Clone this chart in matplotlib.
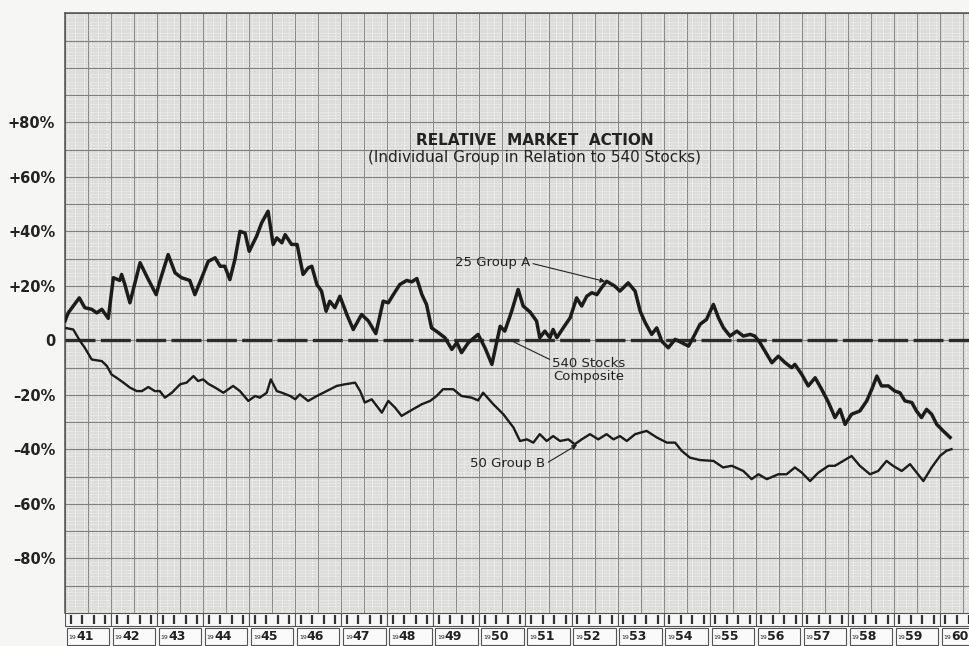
import numpy as np
import matplotlib.pyplot as plt
from matplotlib.patches import Rectangle
from matplotlib.ticker import MultipleLocator

# years after Jan 1941
t_a = [0.00, 0.07, 0.31, 0.43, 0.58, 0.69, 0.80, 0.94, 1.05, 1.19, 1.23, 1.30, 1.41, 1.63,
       1.79, 1.98, 2.06, 2.24, 2.39, 2.53, 2.71, 2.82, 2.97, 3.11, 3.26, 3.37, 3.47, 3.58,
       3.69, 3.80, 3.91, 4.00, 4.16, 4.27, 4.41, 4.52, 4.60, 4.71, 4.78, 4.92, 5.04, 5.17,
       5.28, 5.36, 5.47, 5.57, 5.67, 5.75, 5.86, 5.97, 6.12, 6.26, 6.44, 6.59, 6.75, 6.91,
       7.02, 7.13, 7.27, 7.42, 7.53, 7.64, 7.75, 7.85, 7.96, 8.11, 8.25, 8.40, 8.51, 8.61,
       8.76, 8.97, 9.12, 9.27, 9.45, 9.55, 9.70, 9.84, 9.95, 10.10, 10.24, 10.31, 10.42,
       10.53, 10.60, 10.68, 10.82, 10.97, 11.11, 11.22, 11.33, 11.44, 11.55, 11.65, 11.76,
       11.94, 12.05, 12.23, 12.38, 12.49, 12.60, 12.74, 12.85, 12.96, 13.10, 13.25, 13.39,
       13.54, 13.64, 13.79, 13.93, 14.08, 14.19, 14.30, 14.44, 14.59, 14.73, 14.88, 14.98,
       15.09, 15.20, 15.35, 15.49, 15.64, 15.78, 15.85, 16.00, 16.14, 16.29, 16.43, 16.58,
       16.72, 16.83, 16.94, 17.08, 17.26, 17.41, 17.52, 17.63, 17.73, 17.88, 18.02, 18.13,
       18.24, 18.39, 18.49, 18.60, 18.71, 18.82, 18.93, 19.07, 19.22]
group_a = [7.1, 10.1, 15.6, 12.0, 11.4, 10.1, 11.4, 8.1, 23.0, 22.0, 24.2, 20.5, 13.8, 28.5,
           23.0, 16.8, 21.7, 31.5, 24.8, 23.0, 22.0, 16.8, 23.0, 29.0, 30.3, 27.2, 27.2, 22.3,
           29.7, 40.0, 39.4, 32.7, 38.2, 43.1, 47.4, 35.2, 37.6, 35.8, 38.8, 35.2, 35.2, 24.2,
           26.6, 27.2, 20.5, 18.1, 10.7, 14.4, 12.0, 16.2, 9.5, 4.0, 9.5, 7.1, 2.5, 14.4,
           13.8, 16.8, 20.5, 22.0, 21.5, 22.7, 16.8, 13.2, 4.6, 2.8, 1.0, -3.3, -0.8, -4.5,
           -0.8, 2.2, -2.7, -8.8, 5.2, 3.4, 10.7, 18.7, 12.6, 10.4, 7.1, 1.0, 3.4,
           1.0, 4.0, 1.0, 4.6, 8.3, 15.6, 12.6, 16.2, 17.5, 16.8, 19.3, 21.7,
           19.9, 18.1, 21.1, 18.1, 10.7, 6.5, 2.2, 4.6, -0.3, -2.7, 0.4, -0.8,
           -2.1, 1.0, 5.9, 7.7, 13.2, 8.3, 4.6, 1.6, 3.4, 1.6, 2.2, 1.6,
           -0.8, -3.9, -8.2, -5.8, -8.2, -10.0, -8.8, -12.5, -16.7, -13.7, -17.9, -22.8,
           -28.3, -25.3, -30.8, -27.1, -25.9, -22.2, -17.9, -13.1, -16.7, -16.7, -18.6, -19.2,
           -22.2, -22.8, -25.9, -28.3, -25.3, -27.1, -30.8, -33.2, -35.6]

t_b = [0.00, 0.18, 0.33, 0.43, 0.58, 0.80, 0.91, 1.01, 1.12, 1.27, 1.41, 1.56, 1.67, 1.81,
       1.95, 2.06, 2.17, 2.32, 2.50, 2.64, 2.79, 2.89, 3.00, 3.11, 3.26, 3.44, 3.65, 3.80,
       3.98, 4.13, 4.23, 4.38, 4.47, 4.60, 4.71, 4.89, 5.00, 5.10, 5.28, 5.47, 5.68, 5.90,
       6.08, 6.30, 6.41, 6.51, 6.66, 6.88, 7.02, 7.17, 7.31, 7.49, 7.75, 7.93, 8.07, 8.21,
       8.43, 8.61, 8.83, 8.97, 9.08, 9.30, 9.52, 9.74, 9.88, 10.03, 10.17, 10.31, 10.46,
       10.60, 10.75, 10.93, 11.07, 11.22, 11.40, 11.58, 11.76, 11.91, 12.05, 12.20, 12.38,
       12.63, 12.85, 13.07, 13.25, 13.39, 13.57, 13.79, 14.08, 14.29, 14.48, 14.73, 14.91,
       15.06, 15.24, 15.49, 15.67, 15.85, 16.00, 16.18, 16.36, 16.58, 16.72, 16.90, 17.08,
       17.26, 17.48, 17.66, 17.84, 17.98, 18.17, 18.35, 18.64, 18.82, 19.00, 19.14, 19.25]
group_b = [4.6, 4.0, -0.3, -2.7, -7.0, -7.6, -9.4, -12.5, -13.7, -15.5, -17.3, -18.6, -18.6, -17.1,
           -18.6, -18.6, -21.0, -19.2, -16.1, -15.5, -13.1, -14.9, -14.3, -15.9, -17.3, -19.2, -16.7, -18.6,
           -22.2, -20.4, -21.0, -19.2, -14.3, -18.6, -19.2, -20.4, -21.6, -19.8, -22.2, -20.4, -18.6, -16.7,
           -16.1, -15.5, -18.6, -22.8, -21.6, -26.5, -22.2, -24.7, -27.7, -25.9, -23.4, -22.2, -20.4, -17.9,
           -17.9, -20.4, -21.0, -22.0, -19.2, -23.4, -27.1, -32.0, -36.9, -36.3, -37.5, -34.4, -36.9,
           -35.1, -36.9, -36.3, -38.1, -36.3, -34.4, -36.3, -34.4, -36.3, -35.1, -36.9, -34.4,
           -33.2, -35.6, -37.5, -37.5, -40.5, -43.0, -43.9, -44.2, -46.6, -46.0, -47.9, -50.9,
           -49.1, -50.9, -49.1, -49.1, -46.6, -48.5, -51.6, -48.5, -46.0, -46.0, -44.2, -42.4,
           -46.0, -49.1, -47.9, -44.2, -46.0, -47.9, -45.4, -51.6, -46.6, -42.4, -40.5, -39.9]

years = list(range(1941, 1961))
ytick_vals = [80, 60, 40, 20, 0, -20, -40, -60, -80]
ytick_text = ['+80%', '+60%', '+40%', '+20%', '0', '–20%', '–40%', '–60%', '–80%']

ink = '#222222'
fig = plt.figure(figsize=(9.7, 6.46), dpi=100)
fig.patch.set_facecolor('#f6f6f4')

ax = fig.add_axes([0.067, 0.0511, 0.9495, 0.9283])
ax.set_facecolor('#f0f0ee')
ax.set_xlim(1941, 1961)
ax.set_ylim(-100, 120)

# graph paper
ax.xaxis.set_major_locator(MultipleLocator(0.5))
ax.xaxis.set_minor_locator(MultipleLocator(0.05))
ax.yaxis.set_minor_locator(MultipleLocator(1))
ax.grid(which='minor', color='#c6c6c6', lw=0.35)
ax.grid(which='major', color='#808080', lw=0.8)
ax.set_axisbelow(True)
for y in np.arange(-100, 121, 10):
    ax.axhline(y, color='#808080', lw=0.8, zorder=1)

ax.set_yticks(ytick_vals)
ax.set_yticklabels(ytick_text, fontsize=10.5, fontweight='bold', color=ink)
ax.tick_params(axis='y', which='both', length=0, pad=7)
ax.tick_params(axis='x', which='both', length=0, labelbottom=False)
for s in ['right', 'bottom']:
    ax.spines[s].set_visible(False)
for s in ['left', 'top']:
    ax.spines[s].set_color('#505050')
    ax.spines[s].set_linewidth(1.1)

ax.axhline(0, color='#2b2b2b', lw=2.4, dashes=(9, 1.6), zorder=3)
ax.plot(1941 + np.array(t_a), group_a, color='#1c1c1c', lw=2.5, zorder=4,
        solid_joinstyle='round')
ax.plot(1941 + np.array(t_b), group_b, color='#1c1c1c', lw=1.7, zorder=4,
        solid_joinstyle='round')

ax.text(1951.2, 73.3, 'RELATIVE  MARKET  ACTION', ha='center', va='center',
        fontsize=11, fontweight='bold', color=ink, zorder=5)
ax.text(1951.2, 67.2, '(Individual Group in Relation to 540 Stocks)', ha='center',
        va='center', fontsize=11, color=ink, zorder=5)

ann = dict(fontsize=9.5, color=ink, zorder=5)
ax.annotate('25 Group A', xy=(1952.73, 21.6), xytext=(1949.47, 28.4), va='center',
            arrowprops=dict(arrowstyle='-|>', color=ink, lw=0.8, mutation_scale=7,
                            shrinkA=0, shrinkB=0, relpos=(1, 0.5)), **ann)
ax.annotate('540 Stocks\nComposite', xy=(1950.75, -0.6), xytext=(1952.38, -10.8),
            ha='center', va='center', linespacing=1.0,
            arrowprops=dict(arrowstyle='-', color=ink, lw=0.8, shrinkA=0, shrinkB=0,
                            relpos=(0, 0.85)), **ann)
ax.annotate('50 Group B', xy=(1952.12, -38.3), xytext=(1949.8, -45.3), va='center',
            arrowprops=dict(arrowstyle='-|>', color=ink, lw=0.8, mutation_scale=7,
                            shrinkA=0, shrinkB=0, relpos=(1, 0.5)), **ann)

# year strip under the grid
bx = fig.add_axes([0.067, 0.0, 0.9495, 0.0511])
bx.set_xlim(1941, 1961)
bx.set_ylim(0, 1)
bx.axis('off')
for yr in years:
    bx.add_patch(Rectangle((yr, 0.6), 1, 0.4, facecolor='#f7f7f7', edgecolor='#555555',
                           lw=0.8))
    bx.vlines(yr + np.array([0.12, 0.37, 0.62, 0.87]), 0.66, 0.94, color='#333333', lw=1.6)
    bx.add_patch(Rectangle((yr + 0.04, 0.03), 0.92, 0.52, facecolor='#fafafa',
                           edgecolor='#555555', lw=0.8))
    bx.text(yr + 0.08, 0.26, '19', fontsize=4.5, va='center', color=ink)
    bx.text(yr + 0.25, 0.28, str(yr)[2:], fontsize=9, fontweight='bold', va='center',
            color=ink)

fig.savefig('out.png', dpi=100, facecolor=fig.get_facecolor())
